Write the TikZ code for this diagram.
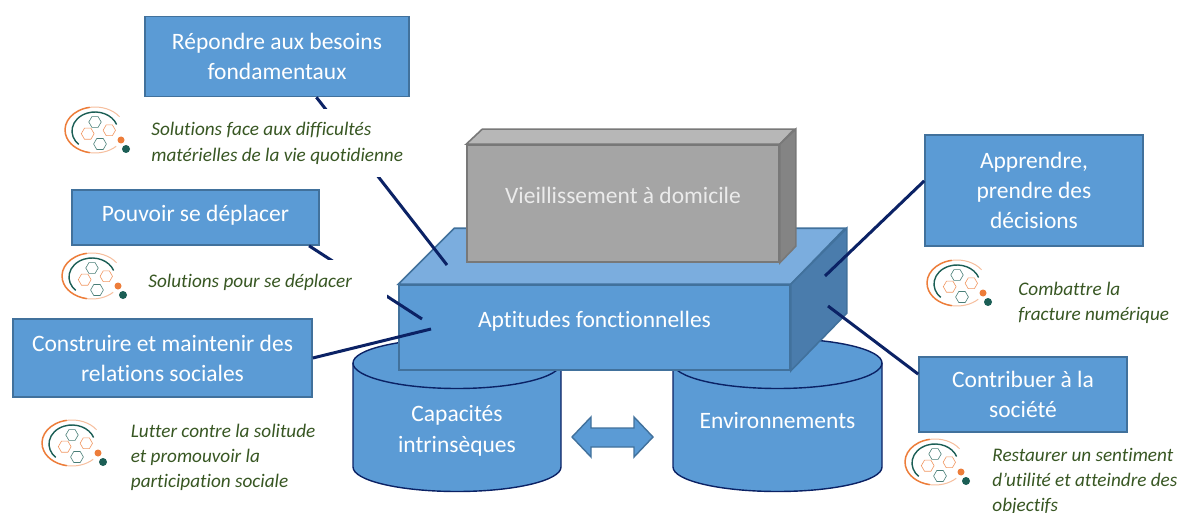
\documentclass[tikz,border=0pt]{standalone}
\usepackage{fontspec}
\setmainfont{Carlito}[Ligatures=NoCommon]
\usepackage{tikz}
\usetikzlibrary{calc}
\usetikzlibrary{positioning}
\definecolor{bluefront}{HTML}{5B9BD5}
\definecolor{bluetop}{HTML}{7BADDE}
\definecolor{blueside}{HTML}{4A7CAC}
\definecolor{bluedraw}{HTML}{41719C}
\definecolor{navyline}{HTML}{0B2265}
\definecolor{greyfront}{HTML}{A5A5A5}
\definecolor{greytop}{HTML}{B7B7B7}
\definecolor{greyside}{HTML}{848484}
\definecolor{greydraw}{HTML}{787878}
\definecolor{captiontext}{HTML}{385723}
\definecolor{logoorange}{HTML}{ED7D3A}
\definecolor{logogreen}{HTML}{1B5E55}
\newcommand{\hexagon}[3]{
    \draw (#1,#2) +(0:#3) -- +(60:#3) -- +(120:#3) -- +(180:#3) -- +(240:#3) -- +(300:#3) -- cycle;
}
\tikzset{
    labelbox/.style={draw=bluedraw, line width=1.6pt, fill=bluefront, text=white, align=center, inner sep=0pt, font=\fontsize{23.5}{30}\selectfont},
    blockface/.style={line width=1.6pt, inner sep=0pt, align=center, font=\fontsize{23.5}{30}\selectfont},
    barrel/.style={draw=navyline, line width=1.4pt, fill=bluefront},
    barreltext/.style={text=white, align=center, font=\fontsize{23.5}{31}\selectfont},
    connector/.style={draw=navyline, line width=3pt},
    caption/.style={fill=white, text=captiontext, align=flush left, inner xsep=0pt, font=\fontsize{19.2}{25.2}\selectfont\itshape},
    pics/logo/.style={code={
        \draw [logoorange, line width=1.5pt] (30,23) ++(100:30pt and 23pt) arc [start angle=100, end angle=260, x radius=30pt, y radius=23pt];
        \draw [logoorange!50, line width=1pt] (30,23) ++(35:30pt and 23pt) arc [start angle=35, end angle=100, x radius=30pt, y radius=23pt];
        \draw [logoorange!50, line width=1pt] (30,23) ++(260:30pt and 23pt) arc [start angle=260, end angle=315, x radius=30pt, y radius=23pt];
        \draw [logogreen, line width=1.4pt] (30,24) ++(20:23pt and 19pt) arc [start angle=20, end angle=225, x radius=23pt, y radius=19pt];
        \begin{scope}[logogreen!80, line width=0.6pt]
            \hexagon{30}{15}{6.2}
            \hexagon{35}{37}{6.4}
        \end{scope}
        \begin{scope}[logoorange!80, line width=0.6pt]
            \hexagon{44.3}{23.3}{6.2}
            \hexagon{22.7}{26.7}{6.4}
        \end{scope}
        \fill [logoorange] (56,33) circle (3.5pt);
        \fill [logogreen] (61,42) circle (4pt);
    }}
}

\begin{document}
\begin{tikzpicture}[x=1pt, y=-1pt]
    \useasboundingbox [fill=white] (0,0) rectangle (1182,513);

    \foreach \cx/\rx in {457/104, 777.5/104.5} {
        \path [barrel] (\cx-\rx,363) -- (\cx-\rx,467) arc [start angle=180, end angle=360, x radius=\rx pt, y radius=24.5pt] -- (\cx+\rx,363) arc [start angle=0, end angle=180, x radius=\rx pt, y radius=24.5pt] -- cycle;
        \draw [barrel, fill=none] (\cx-\rx,363) arc [start angle=180, end angle=360, x radius=\rx pt, y radius=25.5pt];
    }
    \node [barreltext] (capacites) at (457,430.5) {Capacités\\intrinsèques};
    \node [barreltext, right of = capacites, node distance = 320.5pt, yshift=10.5pt] (environnements) {Environnements};
    \draw [draw=bluedraw, line width=1.4pt, fill=bluefront] (572,437) -- (591,417) -- (591,428) -- (634,428) -- (634,417) -- (653,437) -- (634,457) -- (634,447) -- (591,447) -- (591,457) -- cycle;

    \node [blockface, draw=bluedraw, fill=bluefront, text=white, minimum width=391pt, minimum height=85pt] (aptitudes) at (594.5,327.5) {\raisebox{16.5pt}{Aptitudes fonctionnelles}};
    \draw [draw=bluedraw, line width=1.6pt, fill=bluetop] (aptitudes.north west) -- ++(56,-56) -- ++(391,0) -- (aptitudes.north east) -- cycle;
    \draw [draw=bluedraw, line width=1.6pt, fill=blueside] (aptitudes.north east) -- ++(56,-56) -- ++(0,85) -- (aptitudes.south east) -- cycle;

    \node [blockface, draw=greydraw, fill=greyfront, text=white!92!black, minimum width=312pt, minimum height=117pt, above of = aptitudes, node distance = 124pt, xshift=28.5pt] (vieillissement) {\raisebox{16.5pt}{Vieillissement à domicile}};
    \draw [draw=greydraw, line width=1.6pt, fill=greytop] (vieillissement.north west) -- ++(16,-15) -- ++(312,0) -- (vieillissement.north east) -- cycle;
    \draw [draw=greydraw, line width=1.6pt, fill=greyside] (vieillissement.north east) -- ++(16,-15) -- ++(0,117) -- (vieillissement.south east) -- cycle;

    \node [labelbox, minimum width=264pt, minimum height=80pt] (repondre) at (277,56.5) {Répondre aux besoins\\fondamentaux};
    \node [labelbox, minimum width=247pt, minimum height=55pt, below of = repondre, node distance = 161pt, xshift=-81.5pt] (deplacer) {\raisebox{7.5pt}{Pouvoir se déplacer}};
    \node [labelbox, minimum width=299pt, minimum height=78pt, below of = deplacer, node distance = 140.5pt, xshift=-33pt] (relations) {Construire et maintenir des\\relations sociales};
    \node [labelbox, minimum width=218pt, minimum height=111pt] (apprendre) at (1034,190.5) {Apprendre,\\prendre des\\décisions};
    \node [labelbox, minimum width=208pt, minimum height=75pt, below of = apprendre, node distance = 204pt, xshift=-11pt] (contribuer) {Contribuer à la\\société};

    \coordinate (besoinsend) at (447,265);
    \coordinate (deplacerend) at (422,319);
    \coordinate (relationsend) at (431,329);
    \coordinate (apprendreend) at (825,276);
    \coordinate (contribuerend) at (828,306);

    \path [connector] (repondre.-46) edge (besoinsend);
    \path [connector] (deplacer.-14) edge (deplacerend);
    \path [connector] (relations.east) edge (relationsend);
    \path [connector] (apprendre.175.5) edge (apprendreend);
    \path [connector] (contribuer.169.4) edge (contribuerend);

    \node [caption, inner ysep=13pt, below right=12pt and 7pt of repondre.south west] (besoinstext) {Solutions face aux difficultés\\matérielles de la vie quotidienne};
    \node [caption, text width=239pt, inner ysep=14pt, below right=14pt and 77pt of deplacer.south west] (deplacertext) {Solutions pour se déplacer};
    \node [caption, inner ysep=2pt, below right=24pt and 118.5pt of relations.south west] (relationstext) {Lutter contre la solitude\\et promouvoir la\\participation sociale};
    \node [caption, inner ysep=2pt, below right=33pt and 94pt of apprendre.south west] (apprendretext) {Combattre la\\fracture numérique};
    \node [caption, inner ysep=2pt, below right=13pt and 74pt of contribuer.south west] (contribuertext) {Restaurer un sentiment\\d’utilité et atteindre des\\objectifs};

    \pic at (65,107) {logo};
    \pic at (62,253) {logo};
    \pic at (42,420) {logo};
    \pic at (927,260) {logo};
    \pic at (905,439) {logo};
\end{tikzpicture}
\end{document}
